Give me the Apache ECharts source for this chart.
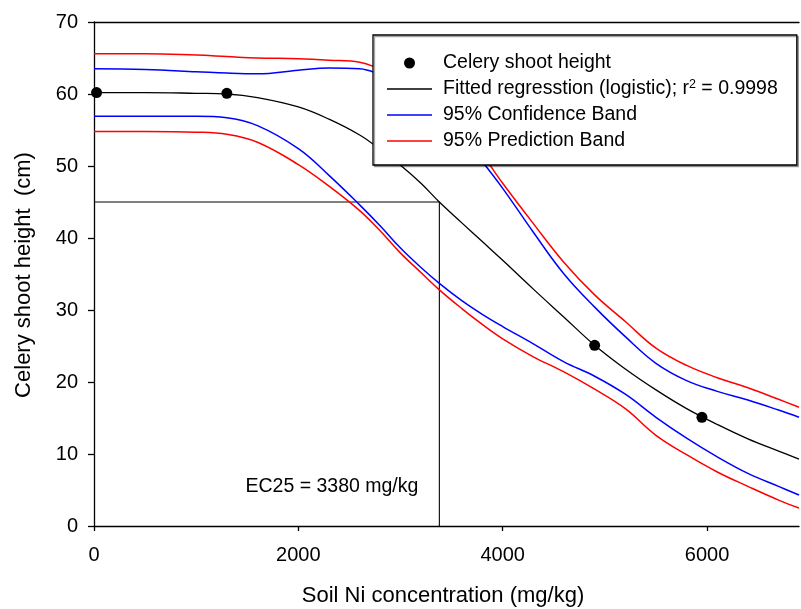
<!DOCTYPE html>
<html>
<head>
<meta charset="utf-8">
<script src="https://cdn.jsdelivr.net/npm/echarts@6/dist/echarts.min.js"></script>
<style>
  html, body { margin: 0; padding: 0; background: #fff; }
  #chart { width: 801px; height: 609px; }
</style>
</head>
<body>
<div id="chart"></div>
<script>
// Observed celery shoot heights
const soilNi = [25, 1300, 4900, 5950];
const shootHeight = [60.2, 60.1, 25.1, 15.1];

// Sample positions along the soil Ni axis for the fitted curve and bands
const concentration = [0, 500, 1000, 1300, 1600, 2000, 2300, 2600, 2800, 3000, 3200, 3380, 3600, 3800, 4000, 4300, 4600, 4900, 5200, 5500, 5800, 6100, 6400, 6700, 6900];
const fitted       = [60.2, 60.2, 60.1, 60.0, 59.5, 58.2, 56.5, 54.3, 52.3, 50.1, 47.6, 45.0, 42.1, 39.5, 36.9, 32.9, 29.0, 25.1, 21.8, 18.9, 16.3, 14.1, 12.1, 10.4, 9.3];
const confUpper    = [63.5, 63.4, 63.1, 62.9, 62.8, 63.3, 63.6, 63.5, 62.7, 61.5, 59.5, 57.3, 53.8, 50.6, 46.9, 40.8, 35.0, 30.4, 26.3, 22.6, 20.2, 18.7, 17.5, 16.1, 15.1];
const confLower    = [56.9, 56.9, 56.9, 56.7, 55.6, 52.4, 48.7, 44.6, 41.7, 38.6, 35.9, 33.7, 31.3, 29.4, 27.7, 25.3, 22.8, 20.8, 18.3, 15.1, 12.2, 9.6, 7.3, 5.5, 4.3];
const predUpper    = [65.6, 65.6, 65.4, 65.2, 65.0, 64.9, 64.7, 64.4, 63.5, 62.5, 60.7, 58.5, 55.0, 51.6, 47.6, 42.0, 36.6, 32.1, 28.4, 24.7, 22.3, 20.6, 19.2, 17.6, 16.5];
const predLower    = [54.8, 54.8, 54.7, 54.4, 53.3, 50.2, 47.2, 43.8, 41.0, 37.9, 35.2, 32.8, 30.2, 28.0, 26.0, 23.5, 21.4, 19.0, 16.3, 12.6, 9.9, 7.5, 5.5, 3.6, 2.5];

// EC25 reference
const ec25 = 3380;
const ec25Height = 45;

// Axis ticks
const xTicks = [0, 2000, 4000, 6000];

const FONT = '"Liberation Sans", Arial, sans-serif';
const pairs = (xs, ys) => xs.map((x, i) => [x, ys[i]]);

const nameObs = 'Celery shoot height';
const nameFit = 'Fitted regresstion (logistic); r2 = 0.9998';
const nameConf = '95% Confidence Band';
const namePred = '95% Prediction Band';
const lineIcon = 'path://M0,0 L45,0 L45,1.4 L0,1.4 Z';

const chart = echarts.init(document.getElementById('chart'), null, { renderer: 'canvas' });

function bandLine(name, data, color, width) {
  return {
    name: name,
    type: 'line',
    data: data,
    showSymbol: false,
    symbol: 'none',
    smooth: 0.4,
    lineStyle: { color: color, width: width },
    itemStyle: { color: color },
    z: 2
  };
}

const option = {
  animation: false,
  backgroundColor: '#fff',
  grid: { left: 94, right: 2, top: 22, bottom: 83, containLabel: false },
  xAxis: [{
    type: 'value',
    min: 0,
    max: 6900,
    position: 'bottom',
    axisLine: { show: true, onZero: false, lineStyle: { color: '#000', width: 1.3 } },
    axisTick: { show: true, inside: false, length: 5, customValues: xTicks, lineStyle: { color: '#000', width: 1.3 } },
    axisLabel: { customValues: xTicks, margin: 19, color: '#000', fontSize: 20, fontFamily: FONT, formatter: v => String(v) },
    splitLine: { show: false }
  }, {
    type: 'value',
    min: 0,
    max: 6900,
    position: 'top',
    axisLine: { show: true, onZero: false, lineStyle: { color: '#000', width: 1.3 } },
    axisTick: { show: false },
    axisLabel: { show: false },
    splitLine: { show: false }
  }],
  yAxis: {
    type: 'value',
    min: 0,
    max: 70,
    interval: 10,
    axisLine: { show: true, onZero: false, lineStyle: { color: '#000', width: 1.3 } },
    axisTick: { show: true, inside: false, length: 6, lineStyle: { color: '#000', width: 1.3 } },
    axisLabel: { margin: 16, color: '#000', fontSize: 20, fontFamily: FONT },
    splitLine: { show: false }
  },
  legend: {
    orient: 'vertical',
    left: 373,
    top: 35,
    padding: [17, 19, 13, 14],
    itemGap: 4,
    itemWidth: 45,
    itemHeight: 11,
    backgroundColor: '#fff',
    borderColor: '#000',
    borderWidth: 1.3,
    shadowColor: 'rgba(0,0,0,0.35)',
    shadowBlur: 0,
    shadowOffsetX: 1.5,
    shadowOffsetY: 1.5,
    data: [
      { name: nameObs, icon: 'circle' },
      { name: nameFit, icon: lineIcon },
      { name: nameConf, icon: lineIcon },
      { name: namePred, icon: lineIcon }
    ],
    formatter: function (name) {
      if (name === nameFit) return 'Fitted regresstion (logistic); r{sup|2} = 0.9998';
      return name;
    },
    textStyle: {
      color: '#000',
      fontSize: 19.5,
      fontFamily: FONT,
      lineHeight: 22,
      padding: [0, 0, 0, 6],
      rich: {
        sup: { fontSize: 12.5, fontFamily: FONT, lineHeight: 12, verticalAlign: 'top', color: '#000' }
      }
    }
  },
  series: [
    bandLine(namePred, pairs(concentration, predUpper), '#ff0000', 1.5),
    bandLine(namePred, pairs(concentration, predLower), '#ff0000', 1.5),
    bandLine(nameConf, pairs(concentration, confUpper), '#0000ff', 1.5),
    bandLine(nameConf, pairs(concentration, confLower), '#0000ff', 1.5),
    bandLine(nameFit, pairs(concentration, fitted), '#000000', 1.3),
    {
      name: 'EC25',
      type: 'line',
      data: [[0, ec25Height], [ec25, ec25Height], [ec25, 0]],
      showSymbol: false,
      symbol: 'none',
      lineStyle: { color: '#000', width: 1.1 },
      z: 1
    },
    {
      name: nameObs,
      type: 'scatter',
      data: pairs(soilNi, shootHeight),
      symbol: 'circle',
      symbolSize: 11,
      itemStyle: { color: '#000', opacity: 1 },
      z: 3
    }
  ],
  graphic: [
    {
      type: 'text',
      x: 443,
      y: 596,
      style: { text: 'Soil Ni concentration (mg/kg)', fontSize: 22, fontFamily: FONT, fill: '#000', align: 'center', verticalAlign: 'middle' }
    },
    {
      type: 'text',
      x: 24,
      y: 275,
      rotation: Math.PI / 2,
      style: { text: 'Celery shoot height  (cm)', fontSize: 22, fontFamily: FONT, fill: '#000', align: 'center', verticalAlign: 'middle' }
    }
  ]
};

chart.setOption(option);

// EC25 annotation, right-aligned just left of the EC25 drop line
const anchor = chart.convertToPixel({ xAxisIndex: 0, yAxisIndex: 0 }, [ec25, 5.5]);
chart.setOption({
  graphic: [
    {}, {},
    {
      type: 'text',
      x: anchor[0] - 21,
      y: anchor[1],
      style: { text: 'EC25 = ' + ec25 + ' mg/kg', fontSize: 19.5, fontFamily: FONT, fill: '#000', align: 'right', verticalAlign: 'middle' }
    }
  ]
});
</script>
</body>
</html>
